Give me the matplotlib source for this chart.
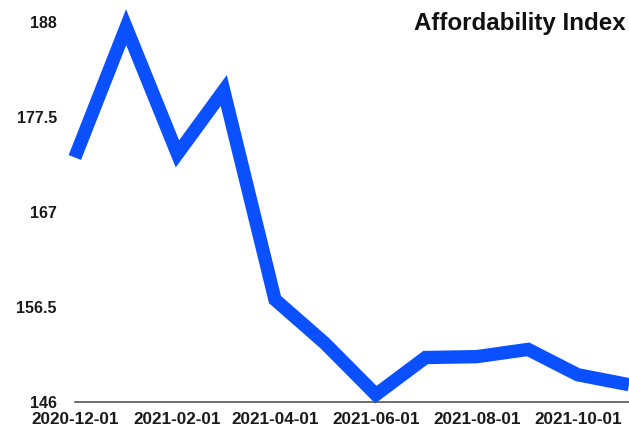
import matplotlib
matplotlib.use("Agg")
import matplotlib.pyplot as plt
import matplotlib.dates as mdates
import numpy as np
import pandas as pd

plt.rcParams['font.family'] = ['Liberation Sans', 'DejaVu Sans']

months = ["2020-12-01", "2021-01-01", "2021-02-01", "2021-03-01", "2021-04-01",
          "2021-05-01", "2021-06-01", "2021-07-01", "2021-08-01", "2021-09-01",
          "2021-10-01", "2021-11-01"]
index_values = [173.0, 187.4, 173.4, 180.4, 157.3, 152.5, 146.8, 150.9,
                151.0, 151.8, 149.0, 147.9]
y_ticks = [146, 156.5, 167, 177.5, 188]
x_ticks = ["2020-12-01", "2021-02-01", "2021-04-01", "2021-06-01",
           "2021-08-01", "2021-10-01"]

dates = pd.to_datetime(months)

fig = plt.figure(figsize=(6.29, 4.28), dpi=100)
ax = fig.add_axes([0.119, 0.061, 0.881, 0.939])

ax.plot(dates, index_values, color="#0a50ff", linewidth=9.6,
        solid_joinstyle="miter", solid_capstyle="butt", clip_on=False)

ax.set_xlim(dates[0], dates[-1])
ax.set_ylim(146, 190.4)

ax.set_yticks(y_ticks)
ax.set_yticklabels(["146", "156.5", "167", "177.5", "188"])
ax.set_xticks(pd.to_datetime(x_ticks))
ax.xaxis.set_major_formatter(mdates.DateFormatter("%Y-%m-%d"))

ax.tick_params(axis="y", length=0, pad=13, labelsize=11.5, labelcolor="#1a1a1a")
ax.tick_params(axis="x", length=0, pad=7.5, labelsize=12.3, labelcolor="#1a1a1a")
for lbl in ax.get_xticklabels() + ax.get_yticklabels():
    lbl.set_fontweight("bold")

for side in ["top", "right", "left"]:
    ax.spines[side].set_visible(False)
ax.spines["bottom"].set_color("#555555")
ax.spines["bottom"].set_linewidth(1.2)

fig.text(0.994, 0.945, "Affordability Index", ha="right", va="center",
         fontsize=17.4, fontweight="bold", color="#111111")

fig.savefig("out.png", dpi=100)
